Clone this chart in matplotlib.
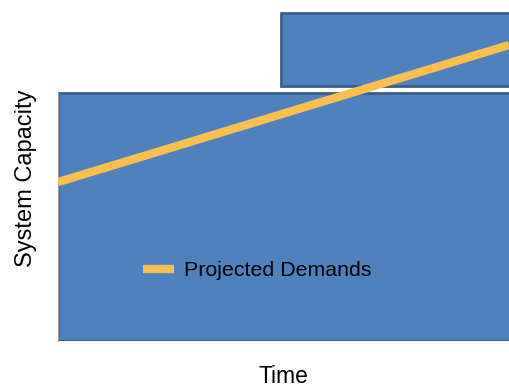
import matplotlib.pyplot as plt
from matplotlib.patches import Rectangle

plt.rcParams['font.family'] = ['Liberation Sans', 'DejaVu Sans']

# capacity blocks: (x start, y bottom, y top) in chart units
capacity_blocks = [(0, 0, 72.7), (49.4, 74.8, 96.2)]
# projected demand line
demand_x = [0, 100]
demand_y = [46.6, 86.8]

fig = plt.figure(figsize=(5.09, 3.89), dpi=100)
ax = fig.add_axes([58 / 509, 48 / 389, 1 - 58 / 509, 341 / 389])
ax.set_xlim(0, 100)
ax.set_ylim(0, 100)

for x0, y0, y1 in capacity_blocks:
    ax.add_patch(Rectangle((x0, y0), 120 - x0, y1 - y0, facecolor='#4F81BD',
                           edgecolor='#3B5E8C', linewidth=2, clip_on=True, zorder=1))

ax.plot(demand_x, demand_y, color='#F9C04F', linewidth=6, solid_capstyle='butt',
        label='Projected Demands', zorder=3)

ax.set_xticks([])
ax.set_yticks([])
for s in ['top', 'right', 'bottom']:
    ax.spines[s].set_visible(False)
ax.spines['left'].set_color('#A6A6A6')
ax.spines['left'].set_bounds(0, 72.7)

ax.set_xlabel('Time', fontsize=16.5, labelpad=17)
ax.set_ylabel('System Capacity', fontsize=17, labelpad=15, y=0.478)

ax.legend(loc='center left', bbox_to_anchor=(0.145, 0.206), frameon=False,
          fontsize=15.4, handlelength=1.45, handletextpad=0.5)

fig.savefig('out.png', dpi=100)
